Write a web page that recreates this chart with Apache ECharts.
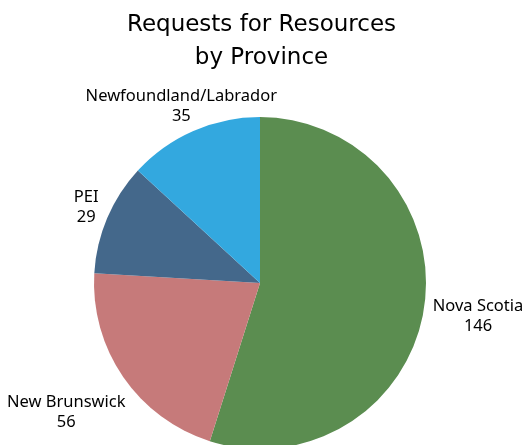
<!DOCTYPE html>
<html><head><meta charset="utf-8">
<script src="https://cdn.jsdelivr.net/npm/echarts@6/dist/echarts.min.js"></script>
<style>html,body{margin:0;padding:0;background:#fff}#c{width:523px;height:445px}</style>
</head><body><div id="c"></div>
<script>
const categories = ['Nova Scotia', 'New Brunswick', 'PEI', 'Newfoundland/Labrador'];
const values = [146, 56, 29, 35];
const colors = ['#5b8d50', '#c67a7a', '#44688b', '#33a8df'];
// label shift from the slice's outer mid-point (label styling)
const labelShift = [[54, 8], [-57, 35], [-21, -11], [-12, -25]];
const CX = 260, CY = 283, R = 166;
const total = values.reduce((a, b) => a + b, 0);
const midAngles = [];
{ let acc = 0; values.forEach(v => { midAngles.push((acc + v / 2) / total * 2 * Math.PI); acc += v; }); }
const chart = echarts.init(document.getElementById('c'));
chart.setOption({
  animation: false,
  title: {
    text: 'Requests for Resources\nby Province',
    left: 'center', top: 4,
    textStyle: {fontFamily: 'DejaVu Sans', fontSize: 23, fontWeight: 'normal', color: '#000', lineHeight: 33}
  },
  series: [{
    type: 'pie',
    center: [CX, CY],
    radius: R,
    startAngle: 90,
    clockwise: true,
    data: categories.map((n, i) => ({name: n, value: values[i], itemStyle: {color: colors[i]}})),
    label: {
      show: true, position: 'outside', overflow: 'none',
      formatter: '{b}\n{c}',
      fontFamily: 'Noto Sans', fontSize: 16.5, color: '#000', lineHeight: 20
    },
    labelLine: {show: false},
    labelLayout: function (p) {
      const i = p.dataIndex, a = midAngles[i];
      const px = CX + R * Math.sin(a), py = CY - R * Math.cos(a);
      return {x: px + labelShift[i][0], y: py + labelShift[i][1], align: 'center', verticalAlign: 'middle', hideOverlap: false};
    },
    itemStyle: {borderWidth: 0}
  }]
});
</script></body></html>
